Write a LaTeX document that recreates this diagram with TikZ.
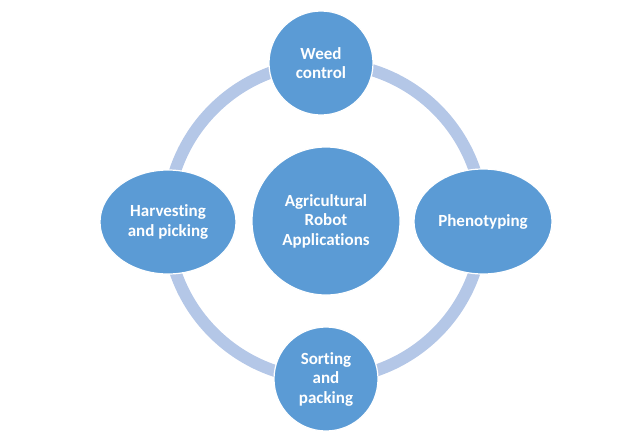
\documentclass[tikz,border=0pt]{standalone}
\usetikzlibrary{shapes.geometric}
\usepackage{fontspec}
\setmainfont{Carlito}[BoldFont={Carlito Bold},Ligatures=NoCommon]
\begin{document}
\begin{tikzpicture}[x=1pt,y=-1pt,
  bub/.style={fill=nodeblue,draw=white,line width=1.2pt,text=white,
    font=\bfseries\fontsize{17}{19.5}\selectfont,align=center,inner sep=0pt},
  ringstyle/.style={draw=ringblue,line width=12pt}]
\definecolor{nodeblue}{HTML}{5B9BD5}
\definecolor{ringblue}{HTML}{B4C7E7}
\useasboundingbox (0,0) rectangle (644,434);
\coordinate (c) at (325,221);
\draw[ringstyle] (c) circle[radius=158];
\node[bub,circle,minimum size=148pt] (center) at (326,221) {Agricultural\\Robot\\Applications};
\node[bub,circle,minimum size=104pt] (weed) at (321,63) {Weed\\control};
\node[bub,circle,minimum size=104pt] (sort) at (326,379) {Sorting\\and\\packing};
\node[bub,ellipse,minimum width=136pt,minimum height=104pt] (harv) at (168,222) {Harvesting\\and picking};
\node[bub,ellipse,minimum width=138pt,minimum height=105pt] (phen) at (483,221.5) {Phenotyping};
\end{tikzpicture}
\end{document}
